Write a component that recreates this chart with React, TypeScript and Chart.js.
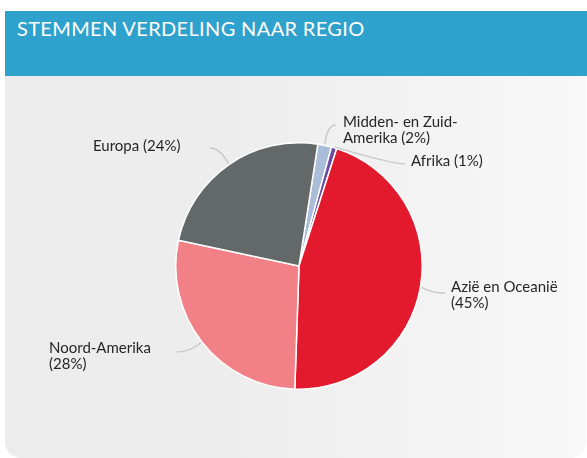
import React, { useEffect, useRef } from "react";
import { Chart, registerables } from "chart.js";

Chart.register(...registerables);

const title = "STEMMEN VERDELING NAAR REGIO";
const regions = ["Midden- en Zuid-Amerika", "Afrika", "Azië en Oceanië", "Noord-Amerika", "Europa"];
const shares = [1.8, 0.7, 45.6, 27.8, 24.1];
const labelLines = [
  ["Midden- en Zuid-", "Amerika (2%)"],
  ["Afrika (1%)"],
  ["Azië en Oceanië", "(45%)"],
  ["Noord-Amerika", "(28%)"],
  ["Europa (24%)"],
];
const sliceColors = ["#a9bdd8", "#6b4aa0", "#e3192d", "#f28187", "#636869"];

// label layout: text x, first baseline y, text align, leader control point, leader end point
const labelLayout = [
  { tx: 343, ty: 127, align: "left", cx: 327, cy: 125, ex: 336, ey: 125 },
  { tx: 411, ty: 166, align: "left", cx: 392, cy: 164, ex: 405, ey: 164 },
  { tx: 451, ty: 292, align: "left", cx: 432, cy: 293, ex: 445, ey: 293 },
  { tx: 49, ty: 353, align: "left", cx: 190, cy: 352, ex: 177, ey: 352 },
  { tx: 93, ty: 151, align: "left", cx: 220, cy: 148, ex: 210, ey: 148 },
];

const FONT = "Lato, 'Open Sans', sans-serif";

const leaderPlugin = {
  id: "leaders",
  afterDatasetsDraw(chart: any) {
    const ctx = chart.ctx;
    const meta = chart.getDatasetMeta(0);
    ctx.save();
    meta.data.forEach((arc: any, i: number) => {
      const p = arc.getProps(["x", "y", "startAngle", "endAngle", "outerRadius"], true);
      const mid = (p.startAngle + p.endAngle) / 2;
      const r = p.outerRadius + 1;
      const ax = p.x + Math.cos(mid) * r;
      const ay = p.y + Math.sin(mid) * r;
      const L = labelLayout[i];
      ctx.strokeStyle = "#c9c9c9";
      ctx.lineWidth = 1.5;
      ctx.beginPath();
      ctx.moveTo(ax, ay);
      ctx.quadraticCurveTo(L.cx, L.cy, L.ex, L.ey);
      ctx.stroke();
      ctx.fillStyle = "#262626";
      ctx.font = `15px ${FONT}`;
      ctx.textAlign = L.align;
      ctx.textBaseline = "alphabetic";
      labelLines[i].forEach((line, j) => {
        ctx.fillText(line, L.tx, L.ty + j * 16);
      });
    });
    ctx.restore();
  },
};

export default function App() {
  const canvasRef = useRef<HTMLCanvasElement | null>(null);

  useEffect(() => {
    const canvas = canvasRef.current;
    if (!canvas) return;
    const chart = new Chart(canvas, {
      type: "pie",
      data: {
        labels: regions,
        datasets: [
          {
            data: shares,
            backgroundColor: sliceColors,
            borderColor: "#ffffff",
            borderWidth: 1.5,
          },
        ],
      },
      options: {
        responsive: false,
        animation: false,
        rotation: 8.8,
        layout: { padding: { left: 175, right: 164, top: 142, bottom: 68 } },
        plugins: {
          legend: { display: false },
          tooltip: { enabled: false },
        },
      },
      plugins: [leaderPlugin],
    });
    return () => chart.destroy();
  }, []);

  return (
    <div style={{ position: "fixed", left: 0, top: 0, width: 587, height: 458, background: "#ffffff", overflow: "hidden" }}>
      <div
        style={{
          position: "absolute",
          left: 5,
          top: 11,
          width: 582,
          height: 65,
          background: "#2ea2cc",
        }}
      >
        <div
          style={{
            position: "absolute",
            left: 12,
            top: 5,
            color: "#ffffff",
            fontFamily: FONT,
            fontSize: 20,
            letterSpacing: "0.35px",
            lineHeight: "24px",
            whiteSpace: "nowrap",
          }}
        >
          {title}
        </div>
      </div>
      <div
        style={{
          position: "absolute",
          left: 5,
          top: 76,
          width: 581,
          height: 382,
          background: "linear-gradient(to right, #ececec 0%, #ededed 40%, #f8f8f8 100%)",
          borderBottomLeftRadius: 16,
          borderBottomRightRadius: 16,
        }}
      />
      <canvas
        ref={canvasRef}
        width={587}
        height={458}
        style={{ position: "absolute", left: 0, top: 0, width: 587, height: 458 }}
      />
    </div>
  );
}
